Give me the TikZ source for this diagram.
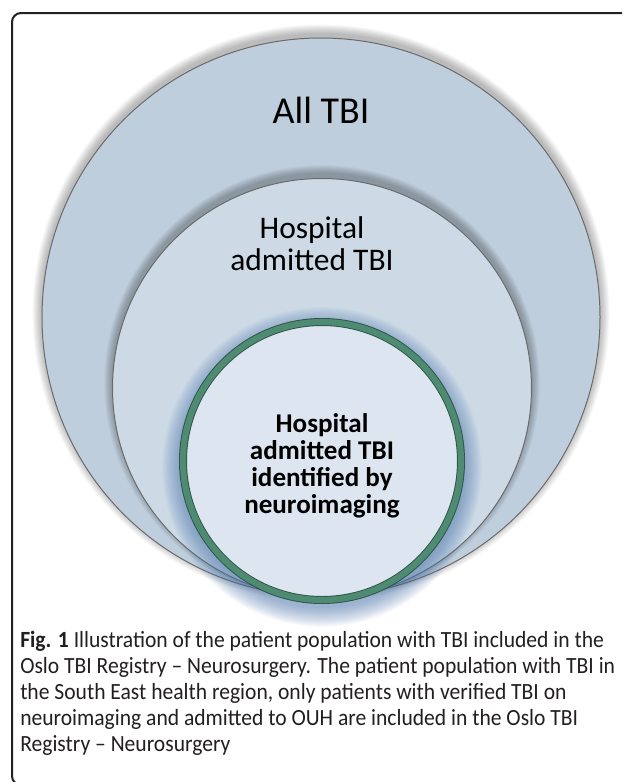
\documentclass[tikz,border=0pt]{standalone}
\usepackage{fontspec}
\setmainfont{Carlito}
\newfontfamily\capfont[FakeStretch=0.93]{Carlito}
\definecolor{outerfill}{HTML}{BFCEDC}
\definecolor{midfill}{HTML}{CDDAE6}
\definecolor{innerfill}{HTML}{DDE6F0}
\definecolor{ringgreen}{HTML}{4F8A73}
\definecolor{ringdark}{HTML}{2E5546}
\definecolor{edgegray}{HTML}{6B6B6B}
\definecolor{glowblue}{HTML}{4D78B0}
\definecolor{framecol}{HTML}{222222}
\definecolor{captioncol}{HTML}{231F20}
\tikzset{
  bigtext/.style={font=\fontsize{28.5}{34}\selectfont, anchor=base, inner sep=0pt},
  midtext/.style={font=\fontsize{23.6}{28}\selectfont, anchor=base, inner sep=0pt},
  innertext/.style={font=\fontsize{20.3}{24}\selectfont\bfseries, anchor=base, inner sep=0pt},
  captext/.style={font=\capfont\fontsize{17.4}{19.5}\selectfont, text=captioncol, anchor=base west, inner sep=0pt},
  circedge/.style={draw=edgegray, line width=0.75pt}
}
\begin{document}
\begin{tikzpicture}[x=0.75pt,y=-0.75pt]
\useasboundingbox (0,0) rectangle (622,782);
\fill[white] (0,0) rectangle (622,782);
% frame
\begin{scope}
\clip (0,0) rectangle (622,782);
\draw[framecol, line width=1.5pt, rounded corners=6.75pt] (640,13) -- (12,13) -- (12,785) -- (640,785);
\end{scope}
% outer circle glow
\foreach \i in {1,...,12} \fill[black, opacity=0.022] (321,313) circle ({279+\i*0.8});
\fill[outerfill] (321,317) circle (279);
\draw[circedge] (321,317) circle (279);
% middle circle glow
\foreach \i in {1,...,12} \fill[black, opacity=0.024] (322,383) circle ({209.5+\i*0.7});
\fill[midfill] (322,388) circle (209.5);
\draw[circedge] (322,388) circle (209.5);
% inner circle glow
\foreach \i in {1,...,18} \fill[glowblue, opacity=0.04] (322,467) circle ({140+\i*1.1});
\fill[innerfill] (322,461) circle (139);
\draw[ringdark, line width=6pt] (322,461) circle (139);
\draw[ringgreen, line width=4.6pt] (322,461) circle (139);
% texts
\node[bigtext] (all) at (321,123) {All TBI};
\node[midtext] (h1) at (312,238) {Hospital};
\node[midtext] (h2) at (312,270) {admitted TBI};
\node[innertext] (n1) at (322,432) {Hospital};
\node[innertext] (n2) at (322,459) {admitted TBI};
\node[innertext] (n3) at (322,486) {identified by};
\node[innertext] (n4) at (322,513) {neuroimaging};
% caption
\node[captext] (c1) at (20,647) {\textbf{Fig. 1} Illustration of the patient population with TBI included in the};
\node[captext] (c2) at (20,673) {Oslo TBI Registry – Neurosurgery. The patient population with TBI in};
\node[captext] (c3) at (20,699) {the South East health region, only patients with verified TBI on};
\node[captext] (c4) at (20,725) {neuroimaging and admitted to OUH are included in the Oslo TBI};
\node[captext] (c5) at (20,751) {Registry – Neurosurgery};
\end{tikzpicture}
\end{document}
